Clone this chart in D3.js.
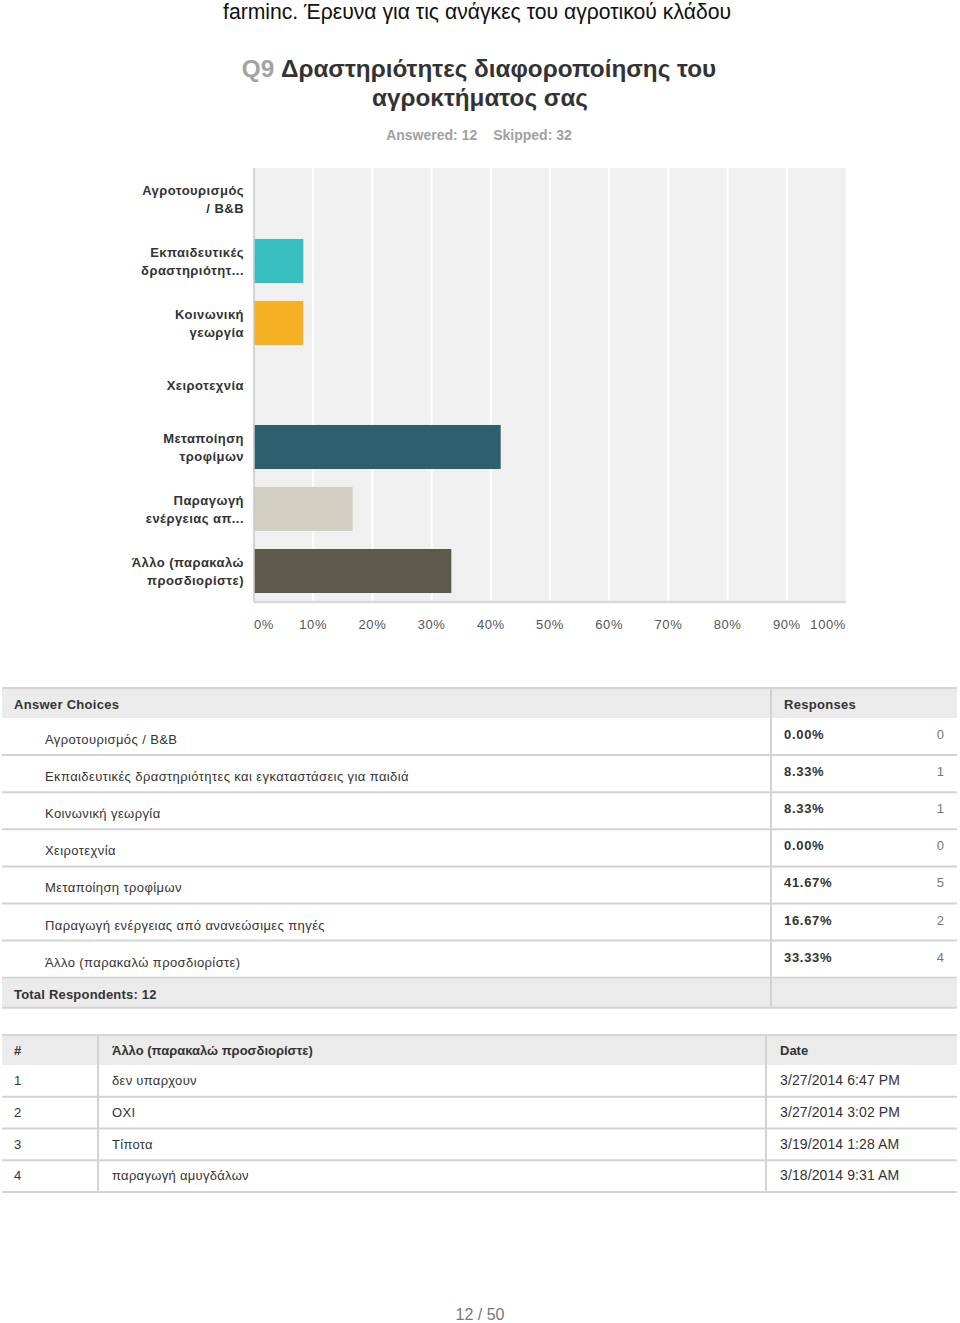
<!DOCTYPE html>
<html><head><meta charset="utf-8">
<script src="https://cdn.jsdelivr.net/npm/d3@7/dist/d3.min.js"></script>
<style>
html,body{margin:0;padding:0;background:#fff;}
svg text{font-family:"Liberation Sans",Arial,Helvetica,sans-serif;}
</style></head>
<body>
<svg id="c" width="960" height="1323"></svg>
<script>
// ---- data ----
const chartLabels = [
  ["Αγροτουρισμός", "/ B&B"],
  ["Εκπαιδευτικές", "δραστηριότητ..."],
  ["Κοινωνική", "γεωργία"],
  ["Χειροτεχνία"],
  ["Μεταποίηση", "τροφίμων"],
  ["Παραγωγή", "ενέργειας απ..."],
  ["Άλλο (παρακαλώ", "προσδιορίστε)"]
];
const choices = [
  "Αγροτουρισμός / B&B",
  "Εκπαιδευτικές δραστηριότητες και εγκαταστάσεις για παιδιά",
  "Κοινωνική γεωργία",
  "Χειροτεχνία",
  "Μεταποίηση τροφίμων",
  "Παραγωγή ενέργειας από ανανεώσιμες πηγές",
  "Άλλο (παρακαλώ προσδιορίστε)"
];
const percents = [0, 8.33, 8.33, 0, 41.67, 16.67, 33.33];
const counts = [0, 1, 1, 0, 5, 2, 4];
const barColors = ["#37bec0", "#37bec0", "#f6b024", "#2f6070", "#2e5f6e", "#d0cfc1", "#5c5a4a"];
const tickValues = [0, 10, 20, 30, 40, 50, 60, 70, 80, 90, 100];
const otherNums = [1, 2, 3, 4];
const otherTexts = ["δεν υπαρχουν", "ΟΧΙ", "Τίποτα", "παραγωγή αμυγδάλων"];
const otherDates = ["3/27/2014 6:47 PM", "3/27/2014 3:02 PM", "3/19/2014 1:28 AM", "3/18/2014 9:31 AM"];
const answered = 12, skipped = 32, totalRespondents = 12;

// ---- drawing ----
const svg = d3.select("#c");

// page header
svg.append("text").attr("x", 223).attr("y", 19)
  .attr("font-size", 22).attr("fill", "#111")
  .attr("textLength", 508).attr("lengthAdjust", "spacingAndGlyphs")
  .style("font-family", "'Liberation Sans Narrow','Arial Narrow',sans-serif")
  .text("farminc. Έρευνα για τις ανάγκες του αγροτικού κλάδου");

const t1 = svg.append("text").attr("x", 479).attr("y", 77).attr("text-anchor", "middle")
  .attr("font-size", 24.3).attr("font-weight", "bold").attr("fill", "#333");
t1.append("tspan").attr("fill", "#a3a3a3").text("Q9 ");
t1.append("tspan").text("Δραστηριότητες διαφοροποίησης του");
svg.append("text").attr("x", 480).attr("y", 106).attr("text-anchor", "middle")
  .attr("font-size", 24.3).attr("font-weight", "bold").attr("fill", "#333")
  .text("αγροκτήματος σας");

const sub = svg.append("text").attr("x", 479).attr("y", 140).attr("text-anchor", "middle")
  .attr("font-size", 14).attr("font-weight", "bold").attr("fill", "#a0a0a0");
sub.append("tspan").text("Answered: " + answered);
sub.append("tspan").attr("dx", 16).text("Skipped: " + skipped);

// chart
const x0 = 254, x1 = 846, yTop = 168, yBot = 602;
const x = d3.scaleLinear().domain([0, 100]).range([x0, x1]);
const y = d3.scaleBand().domain(d3.range(chartLabels.length)).range([yTop, yBot])
  .paddingInner(0.29).paddingOuter(0.145);

svg.append("rect").attr("x", x0).attr("y", yTop).attr("width", x1 - x0).attr("height", yBot - yTop)
  .attr("fill", "#f0f0f0");
svg.append("g").selectAll("line").data(tickValues.slice(1, -1)).join("line")
  .attr("x1", d => x(d)).attr("x2", d => x(d)).attr("y1", yTop).attr("y2", yBot)
  .attr("stroke", "#fff").attr("stroke-width", 2);

svg.append("g").selectAll("rect").data(percents).join("rect")
  .attr("x", x0).attr("y", (d, i) => y(i))
  .attr("width", d => x(d) - x0).attr("height", y.bandwidth())
  .attr("fill", (d, i) => barColors[i]);

svg.append("line").attr("x1", x0).attr("x2", x0).attr("y1", yTop).attr("y2", yBot)
  .attr("stroke", "#c8c8c8").attr("stroke-width", 1.5);
svg.append("line").attr("x1", x0).attr("x2", x1).attr("y1", yBot).attr("y2", yBot)
  .attr("stroke", "#d8d8d8").attr("stroke-width", 2.5);

// y labels
const yl = svg.append("g").selectAll("text").data(chartLabels).join("text")
  .attr("text-anchor", "end").attr("font-size", 13).attr("font-weight", "bold")
  .attr("fill", "#333").style("letter-spacing", "0.45px");
yl.each(function (lines, i) {
  const cy = y(i) + y.bandwidth() / 2;
  const g = d3.select(this);
  const n = lines.length;
  lines.forEach((ln, k) => {
    g.append("tspan").attr("x", 244).attr("y", cy + 5 + (k - (n - 1) / 2) * 18).text(ln);
  });
});

// x tick labels
svg.append("g").selectAll("text").data(tickValues).join("text")
  .attr("x", d => x(d))
  .attr("text-anchor", d => d === 0 ? "start" : d === 100 ? "end" : "middle")
  .attr("y", 629).attr("font-size", 13).attr("fill", "#555")
  .style("letter-spacing", "0.6px")
  .text(d => d + "%");

// ---- responses table ----
const tX0 = 2, tX1 = 957, colSplit = 771;
const hdrTop = 688, hdrH = 30, rowH = 37.1;
svg.append("rect").attr("x", tX0).attr("y", hdrTop).attr("width", tX1 - tX0).attr("height", hdrH).attr("fill", "#ebebeb");
svg.append("line").attr("x1", tX0).attr("x2", tX1).attr("y1", hdrTop).attr("y2", hdrTop).attr("stroke", "#d5d5d5").attr("stroke-width", 2);
svg.append("text").attr("x", 14).attr("y", 709).attr("font-size", 13).attr("font-weight", "bold").attr("fill", "#333")
  .style("letter-spacing", "0.3px").text("Answer Choices");
svg.append("text").attr("x", 784).attr("y", 709).attr("font-size", 13).attr("font-weight", "bold").attr("fill", "#333")
  .style("letter-spacing", "0.3px").text("Responses");

const rowsTop = hdrTop + hdrH;
const rows = svg.append("g").selectAll("g").data(choices).join("g")
  .attr("transform", (d, i) => `translate(0,${rowsTop + i * rowH})`);
rows.append("line").attr("x1", tX0).attr("x2", tX1).attr("y1", rowH).attr("y2", rowH)
  .attr("stroke", "#d3d3d3").attr("stroke-width", 2);
rows.append("text").attr("x", 45).attr("y", 26).attr("font-size", 13).attr("fill", "#333")
  .style("letter-spacing", "0.4px").text(d => d);
rows.append("text").attr("x", 784).attr("y", 21).attr("font-size", 13).attr("font-weight", "bold").attr("fill", "#333")
  .style("letter-spacing", "0.7px").text((d, i) => percents[i].toFixed(2) + "%");
rows.append("text").attr("x", 944).attr("y", 21).attr("text-anchor", "end").attr("font-size", 13).attr("fill", "#777")
  .text((d, i) => counts[i]);

const totTop = rowsTop + choices.length * rowH;
svg.append("rect").attr("x", tX0).attr("y", totTop + 1).attr("width", tX1 - tX0).attr("height", 29).attr("fill", "#ebebeb");
svg.append("line").attr("x1", tX0).attr("x2", tX1).attr("y1", totTop + 30).attr("y2", totTop + 30).attr("stroke", "#d3d3d3").attr("stroke-width", 2);
svg.append("text").attr("x", 14).attr("y", totTop + 21).attr("font-size", 13).attr("font-weight", "bold").attr("fill", "#333")
  .style("letter-spacing", "0.2px").text("Total Respondents: " + totalRespondents);
svg.append("line").attr("x1", colSplit).attr("x2", colSplit).attr("y1", hdrTop).attr("y2", totTop + 30)
  .attr("stroke", "#d3d3d3").attr("stroke-width", 2);

// ---- other responses table ----
const o0 = 1035, oH = 30, oRow = 31.75;
svg.append("rect").attr("x", tX0).attr("y", o0).attr("width", tX1 - tX0).attr("height", oH).attr("fill", "#ebebeb");
svg.append("line").attr("x1", tX0).attr("x2", tX1).attr("y1", o0).attr("y2", o0).attr("stroke", "#d5d5d5").attr("stroke-width", 2);
const hdr2 = [["#", 14], ["Άλλο (παρακαλώ προσδιορίστε)", 112], ["Date", 780]];
svg.append("g").selectAll("text").data(hdr2).join("text")
  .attr("x", d => d[1]).attr("y", o0 + 20).attr("font-size", 13).attr("font-weight", "bold").attr("fill", "#333")
  .text(d => d[0]);
const oRowsTop = o0 + oH;
const orows = svg.append("g").selectAll("g").data(otherNums).join("g")
  .attr("transform", (d, i) => `translate(0,${oRowsTop + i * oRow})`);
orows.append("line").attr("x1", tX0).attr("x2", tX1).attr("y1", oRow).attr("y2", oRow)
  .attr("stroke", "#d3d3d3").attr("stroke-width", 2);
orows.append("text").attr("x", 14).attr("y", 20).attr("font-size", 13).attr("fill", "#333").text(d => d);
orows.append("text").attr("x", 112).attr("y", 20).attr("font-size", 13).attr("fill", "#333")
  .style("letter-spacing", "0.3px").text((d, i) => otherTexts[i]);
orows.append("text").attr("x", 780).attr("y", 20).attr("font-size", 14).attr("fill", "#333")
  .style("letter-spacing", "0.1px").text((d, i) => otherDates[i]);
const oBot = oRowsTop + otherNums.length * oRow;
[98, 766].forEach(cx => {
  svg.append("line").attr("x1", cx).attr("x2", cx).attr("y1", o0).attr("y2", oBot)
    .attr("stroke", "#d3d3d3").attr("stroke-width", 2);
});

// footer
svg.append("text").attr("x", 480).attr("y", 1320).attr("text-anchor", "middle")
  .attr("font-size", 16).attr("fill", "#777").text("12 / 50");
</script>
</body></html>
